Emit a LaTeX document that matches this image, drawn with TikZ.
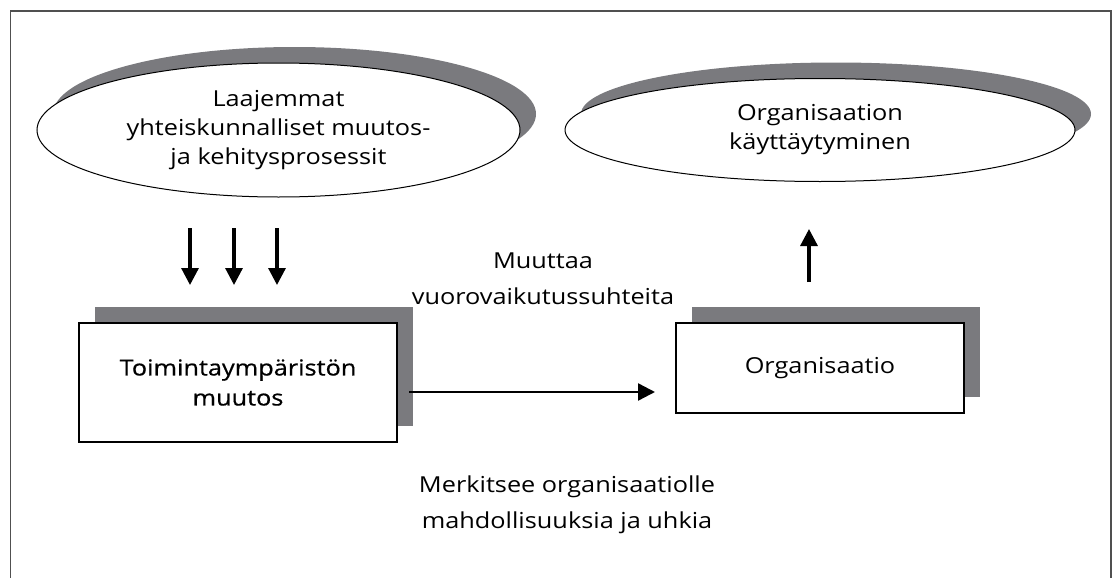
\documentclass[tikz,border=0pt]{standalone}
\usepackage{fontspec}
\setmainfont{Open Sans}[FakeStretch=1.15]
\newfontfamily\heavyfont{Open Sans}[FakeStretch=1.15, FakeBold=0.6]
\usepackage{tikz}
\usetikzlibrary{shapes.geometric,shadows,arrows.meta}
\definecolor{shadowgray}{RGB}{122,122,126}
\definecolor{framegray}{RGB}{80,80,80}

\begin{document}
\begin{tikzpicture}[x=0.5pt, y=-0.5pt,
  every node/.style={font=\fontsize{11}{14.5}\selectfont, align=center, inner sep=0pt},
  oval/.style={ellipse, draw, line width=0.5pt, fill=white,
    drop shadow={shadow xshift=8pt, shadow yshift=8pt, fill=shadowgray, opacity=1}},
  box/.style={rectangle, draw, line width=0.7pt, fill=white,
    drop shadow={shadow xshift=8pt, shadow yshift=8pt, fill=shadowgray, opacity=1}},
  lbl/.style={font=\fontsize{11}{18}\selectfont},
  arr/.style={-{Triangle[length=8.5pt,width=8.5pt]}, line width=1.6pt}]
  \useasboundingbox (0,0) rectangle (1115,578);
  \draw[framegray, line width=0.6pt] (10.7,578) -- (10.7,11) -- (1111,11) -- (1111,578);

  % ovals
  \node[oval, minimum width=241.5pt, minimum height=67pt] (e1) at (278.5,130)
    {\vspace*{3pt}Laajemmat\\yhteiskunnalliset muutos-\\ja kehitysprosessit};
  \node[oval, minimum width=255pt, minimum height=51.5pt] (e2) at (820,130)
    {Organisaation\\käyttäytyminen};

  % boxes
  \node[box, minimum width=159pt, minimum height=59.5pt, font=\heavyfont\fontsize{11}{15}\selectfont] (b1) at (238,382.5)
    {Toimintaympäristön\\muutos};
  \node[box, minimum width=144pt, minimum height=45pt] (b2) at (820,368)
    {Organisaatio};

  % labels
  \node[lbl] (l1) at (543,279) {Muuttaa\\vuorovaikutussuhteita};
  \node[lbl] (l2) at (567,505) {Merkitsee organisaatiolle\\mahdollisuuksia ja uhkia};

  % arrows
  \foreach \x [count=\i] in {190,234,277} {
    \coordinate (s\i) at (\x,228);
    \coordinate (t\i) at (\x,285);
    \draw[arr] (s\i) -- (t\i);
  }
  \coordinate (u1) at (809,282);
  \coordinate (u2) at (809,229);
  \draw[arr] (u1) -- (u2);
  \coordinate (h1) at (409,392);
  \coordinate (h2) at (655,392);
  \draw[arr, line width=1.2pt] (h1) -- (h2);
\end{tikzpicture}
\end{document}
